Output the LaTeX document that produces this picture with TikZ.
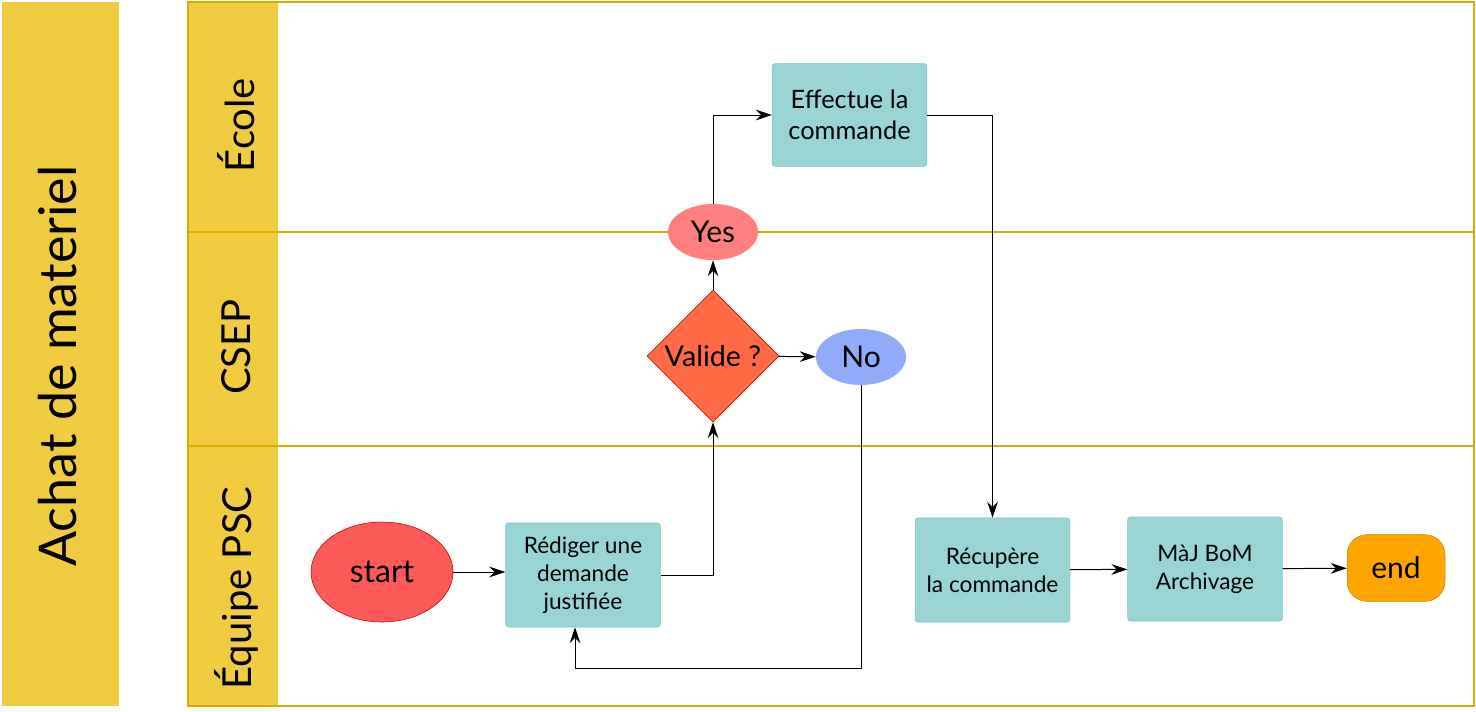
\documentclass[tikz,border=0pt]{standalone}
\usepackage{fontspec}
\setmainfont{Lato}
\usetikzlibrary{arrows.meta,shapes.geometric}

\definecolor{poolgold}{HTML}{D6AE00}
\definecolor{headyellow}{HTML}{F2CC40}
\definecolor{taskteal}{HTML}{9AD5D6}
\definecolor{taskedge}{HTML}{7CC5C7}
\definecolor{startred}{HTML}{FF5A5A}
\definecolor{decideorange}{HTML}{FF6A45}
\definecolor{yespink}{HTML}{FF7F7F}
\definecolor{noblue}{HTML}{8FABFA}
\definecolor{endorange}{HTML}{FFA500}

\begin{document}
\begin{tikzpicture}[x=0.75pt,y=-0.75pt]
  \tikzset{
    task/.style={draw=taskedge, fill=taskteal, rectangle, rounded corners=2pt, align=center, minimum width=116pt, minimum height=78pt, font=\fontsize{17}{21}\selectfont},
    bubble/.style={ellipse, minimum width=67.5pt, minimum height=42pt, inner sep=0pt, font=\fontsize{22.5}{26}\selectfont},
    decide/.style={diamond, draw=red!70!black, fill=decideorange, minimum width=99pt, minimum height=99pt, inner sep=0pt, font=\fontsize{21.5}{25}\selectfont},
    lanename/.style={rotate=90, font=\fontsize{30}{34}\selectfont},
    lane/.style={draw=poolgold, line width=1.1pt},
    line/.style={draw, line width=0.75pt, -{Stealth[length=12pt, width=8pt, inset=4pt]}},
  }
  \useasboundingbox (0,0) rectangle (1476,711);

  % pool and lanes
  \fill[headyellow] (2,2) rectangle (119,706);
  \node[rotate=90, font=\fontsize{39}{44}\selectfont] (pool) at (58,366) {Achat de materiel};
  \fill[headyellow] (188,2) rectangle (278,706);
  \draw[lane] (188,2) rectangle (1474,706);
  \draw[lane] (188,232) -- (1474,232);
  \draw[lane] (188,446) -- (1474,446);
  \node[lanename] (ecole) at (236,125) {École};
  \node[lanename] (csep) at (236,347) {CSEP};
  \node[lanename] (equipe) at (236,588) {Équipe PSC};

  % flow
  \node[ellipse, draw=red!75!black, fill=startred, minimum width=106.5pt, minimum height=75pt, font=\fontsize{24}{28}\selectfont] (start) at (382,572) {start};
  \node[task] (redige) at (583,575) {Rédiger une\\demande\\justifiée};
  \node[decide] (valide) at (713,356) {Valide ?};
  \node[bubble, fill=yespink] (yes) at (713,232) {Yes};
  \node[bubble, fill=noblue] (no) at (861,357) {No};
  \node[task, minimum height=77pt, font=\fontsize{19}{23}\selectfont] (effectue) at (849.5,115) {Effectue la\\commande};
  \node[task] (recupere) at (992.5,570) {Récupère\\la commande};
  \node[task] (maj) at (1205,569) {MàJ BoM\\Archivage};
  \node[draw=endorange!80!black, fill=endorange, rounded corners=15pt, minimum width=73.5pt, minimum height=50pt, font=\fontsize{22.5}{26}\selectfont] (fin) at (1396,568) {end};
  \coordinate (back) at (575,668);

  \path[line] (start.east) -- (start.east -| redige.west);
  \path[line] (redige.east) -| (valide.south);
  \path[line] (valide) -- (yes);
  \path[line] (yes.north) |- (effectue.west);
  \path[line] (effectue.east) -| (recupere.north);
  \path[line] (valide) -- (no);
  \path[line] (no.south) |- (back) -- (back |- redige.south);
  \path[line] (recupere) -- (maj);
  \path[line] (maj) -- (fin);
\end{tikzpicture}
\end{document}
